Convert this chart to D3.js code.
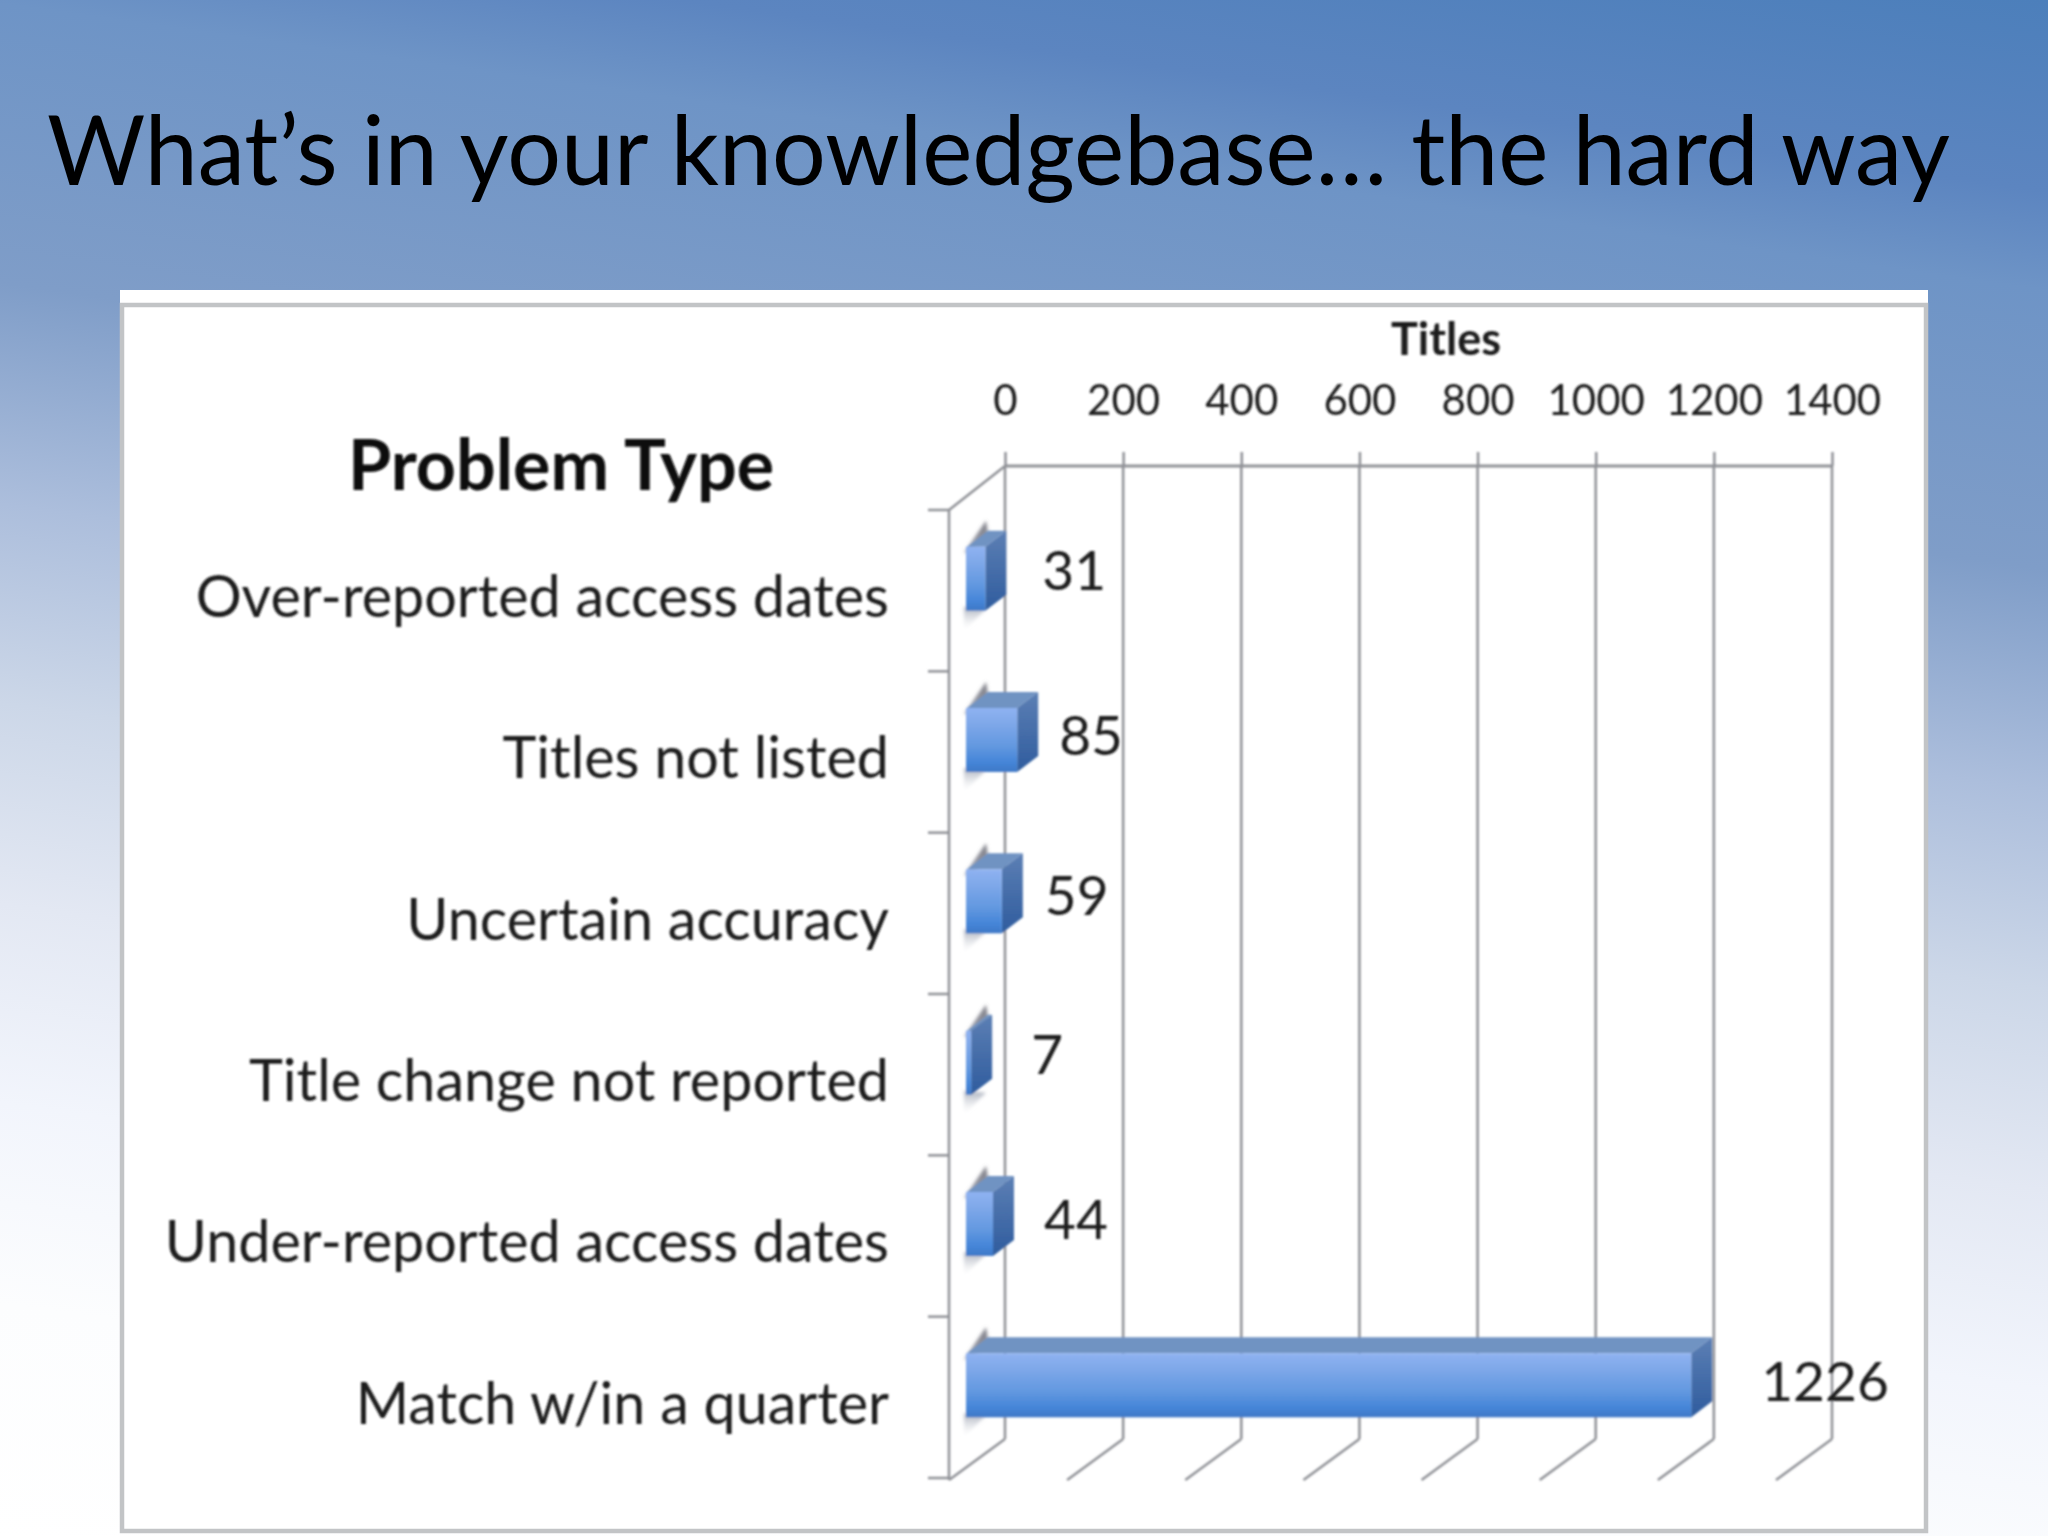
<!DOCTYPE html>
<html>
<head>
<meta charset="utf-8">
<title>What's in your knowledgebase</title>
<script src="https://cdn.jsdelivr.net/npm/d3@7"></script>
<style>
  html, body { margin: 0; padding: 0; background: #fff; }
  text { font-family: Lato, "Open Sans", sans-serif; }
  .domain { display: none; }
</style>
</head>
<body>
<svg id="chart" width="2048" height="1536"></svg>
<script>
const categories = ["Over-reported access dates", "Titles not listed", "Uncertain accuracy",
                    "Title change not reported", "Under-reported access dates", "Match w/in a quarter"];
const titles = [31, 85, 59, 7, 44, 1226];
const xTicks = [0, 200, 400, 600, 800, 1000, 1200, 1400];

// the data labels were dragged by hand in the original, so each has its own nudge
const labelGap = [57, 42, 43, 60, 51, 70];
const labelLift = [4, 0, 1, 4, 0, -1];

const W = 2048, H = 1536;
const svg = d3.select("#chart");
const defs = svg.append("defs");

function gradient(id, stops, horizontal) {
    let g = defs.append("linearGradient").attr("id", id)
        .attr("x1", 0).attr("y1", 0)
        .attr("x2", horizontal ? 1 : 0).attr("y2", horizontal ? 0 : 1);
    stops.forEach(s => g.append("stop").attr("offset", s[0]).attr("stop-color", s[1]).attr("stop-opacity", s[2] === undefined ? 1 : s[2]));
}

gradient("front", [[0, "#8fb2f2"], [0.2, "#82aaea"], [0.6, "#6298e0"], [0.85, "#4585d8"], [1, "#3f78c6"]]);
gradient("side", [[0, "#5c7fb4"], [1, "#2f5c9e"]]);
gradient("ghostTop", [[0, "#7c7c84", 1], [1, "#a0a4b0", 1]]);
gradient("ghostBottom", [[0, "#a8aebb", 1], [1, "#ffffff", 0.2]]);

// slide background runs slightly diagonal, darkest in the top right corner
let bg = defs.append("linearGradient").attr("id", "bg").attr("gradientUnits", "userSpaceOnUse")
    .attr("x1", 2048).attr("y1", 0).attr("x2", 1797).attr("y2", 1791);
[[0, "#4c7fbb"], [0.105, "#5c85c0"], [0.159, "#6e94c6"], [0.312, "#7f9dc8"], [0.433, "#acbedc"],
 [0.542, "#ccd7e8"], [0.652, "#e3e8f3"], [0.761, "#f2f5fc"], [0.871, "#fcfdfe"], [1, "#ffffff"]]
    .forEach(s => bg.append("stop").attr("offset", s[0]).attr("stop-color", s[1]));

defs.append("filter").attr("id", "soft").append("feGaussianBlur").attr("stdDeviation", 0.9);
defs.append("filter").attr("id", "softer").append("feGaussianBlur").attr("stdDeviation", 1.4);

// slide background and title
svg.append("rect").attr("width", W).attr("height", H).attr("fill", "url(#bg)");

svg.append("text").attr("x", 47).attr("y", 185)
    .attr("font-size", 96).attr("fill", "#000")
    .attr("textLength", 1903).attr("lengthAdjust", "spacingAndGlyphs")
    .text("What’s in your knowledgebase… the hard way");

// pasted picture of the chart
svg.append("rect").attr("x", 120).attr("y", 290).attr("width", 1808).attr("height", 1242).attr("fill", "#fff");
svg.append("rect").attr("x", 122).attr("y", 305).attr("width", 1804).attr("height", 1226)
    .attr("fill", "none").attr("stroke", "#c2c4c6").attr("stroke-width", 4.5);

const chart = svg.append("g").attr("filter", "url(#soft)");

// 3d box: back wall and the shift to the front edge of the floor
const wallTop = 466, wallBottom = 1439;
const depth = {dx: -56, dy: 41};
const barOffset = {dx: -38, dy: 27};   // where the bar's front face sits, from the wall
const barDepth = {dx: 21, dy: -16};

const x = d3.scaleLinear().domain([0, 1400]).range([1005, 1832]);
const yFull = d3.scaleBand().domain(categories)
    .range([wallTop + depth.dy + 3, wallBottom + depth.dy - 2]);

const gridColor = "#8f9196";

// vertical grid lines on the wall and their floor diagonals
chart.selectAll("line.grid").data(xTicks).join("line").attr("class", "grid")
    .attr("x1", d => x(d)).attr("x2", d => x(d))
    .attr("y1", wallTop).attr("y2", wallBottom)
    .attr("stroke", gridColor).attr("stroke-width", 2.5);
chart.selectAll("line.floor").data(xTicks).join("line").attr("class", "floor")
    .attr("x1", d => x(d)).attr("x2", d => x(d) + depth.dx)
    .attr("y1", wallBottom).attr("y2", wallBottom + depth.dy)
    .attr("stroke", gridColor).attr("stroke-width", 2.5);

// top of wall, side wall edge
chart.append("line").attr("x1", x(0)).attr("x2", x(1400)).attr("y1", wallTop).attr("y2", wallTop)
    .attr("stroke", gridColor).attr("stroke-width", 3);
chart.append("line").attr("x1", x(0)).attr("x2", x(0) + depth.dx).attr("y1", wallTop).attr("y2", wallTop + depth.dy + 3)
    .attr("stroke", gridColor).attr("stroke-width", 2.5);
chart.append("line").attr("x1", x(0) + depth.dx).attr("x2", x(0) + depth.dx)
    .attr("y1", wallTop + depth.dy + 3).attr("y2", wallBottom + depth.dy)
    .attr("stroke", gridColor).attr("stroke-width", 2.5);

// value axis along the top
const xAxis = d3.axisTop(x).tickValues(xTicks).tickSize(14).tickPadding(37).tickFormat(d3.format("d"));
const xG = chart.append("g").attr("transform", `translate(0,${wallTop})`).call(xAxis);
xG.selectAll("line").attr("stroke", gridColor).attr("stroke-width", 2.5);
xG.selectAll("text").attr("font-size", 42).attr("fill", "#1c1c1c").attr("font-family", "Lato");

chart.append("text").attr("x", 1446).attr("y", 355).attr("text-anchor", "middle")
    .attr("font-size", 45).attr("font-weight", 700).attr("fill", "#1a1a1a").text("Titles");

// category ticks sit between the bands
const tickYs = categories.map(c => yFull(c)).concat([yFull.range()[1]]);
chart.selectAll("line.catTick").data(tickYs).join("line").attr("class", "catTick")
    .attr("x1", x(0) + depth.dx - 21).attr("x2", x(0) + depth.dx)
    .attr("y1", d => d).attr("y2", d => d)
    .attr("stroke", gridColor).attr("stroke-width", 2.5);

// category labels
const yAxis = d3.axisLeft(yFull).tickSize(0).tickPadding(0);
const yG = chart.append("g").attr("transform", "translate(889,8)").call(yAxis);
yG.selectAll("text").attr("font-size", 57.5).attr("fill", "#1c1c1c").attr("font-family", "Lato");

chart.append("text").attr("x", 561).attr("y", 490).attr("text-anchor", "middle")
    .attr("font-size", 70).attr("font-weight", 700).attr("fill", "#0a0a0a").text("Problem Type");

// bars
const barX = v => x(v) + barOffset.dx;
const barTop = c => yFull(c) + yFull.bandwidth() / 2 - 12 - 32;
const barH = 64;

function pts(a) { return a.map(p => p.join(",")).join(" "); }

const bars = chart.selectAll("g.bar").data(categories.map((c, i) => ({c: c, v: titles[i]})))
    .join("g").attr("class", "bar");

// grey reflection wedges at the base of each bar
bars.append("polygon").attr("fill", "url(#ghostTop)").attr("filter", "url(#softer)")
    .attr("points", d => {
        let x0 = barX(0) - 3, t = barTop(d.c);
        return pts([[x0, t + 6], [x0 + 22, t - 26], [x0 + 25, t - 8], [x0 + 3, t + 6]]);
    });
bars.append("polygon").attr("fill", "url(#ghostBottom)").attr("filter", "url(#softer)")
    .attr("points", d => {
        let x0 = barX(0) - 3, b = barTop(d.c) + barH;
        return pts([[x0, b - 4], [x0, b + 20], [x0 + 22, b - 2]]);
    });

// top face
bars.append("polygon").attr("fill", "#7093c2")
    .attr("points", d => {
        let t = barTop(d.c), x0 = barX(0), x1 = barX(d.v);
        return pts([[x0, t], [x0 + barDepth.dx, t + barDepth.dy], [x1 + barDepth.dx, t + barDepth.dy], [x1, t]]);
    });
// side face
bars.append("polygon").attr("fill", "url(#side)")
    .attr("points", d => {
        let t = barTop(d.c), x1 = barX(d.v);
        return pts([[x1, t], [x1 + barDepth.dx, t + barDepth.dy], [x1 + barDepth.dx, t + barDepth.dy + barH], [x1, t + barH]]);
    });
// front face
bars.append("rect").attr("fill", "url(#front)")
    .attr("x", barX(0) - 1).attr("y", d => barTop(d.c))
    .attr("width", d => barX(d.v) - barX(0) + 1).attr("height", barH);

// data labels
chart.selectAll("text.val").data(titles).join("text").attr("class", "val")
    .attr("x", (d, i) => barX(d) + labelGap[i])
    .attr("y", (d, i) => barTop(categories[i]) + barH / 2 + 15 - labelLift[i])
    .attr("font-size", 55).attr("fill", "#1a1a1a")
    .text(d => d);
</script>
</body>
</html>
